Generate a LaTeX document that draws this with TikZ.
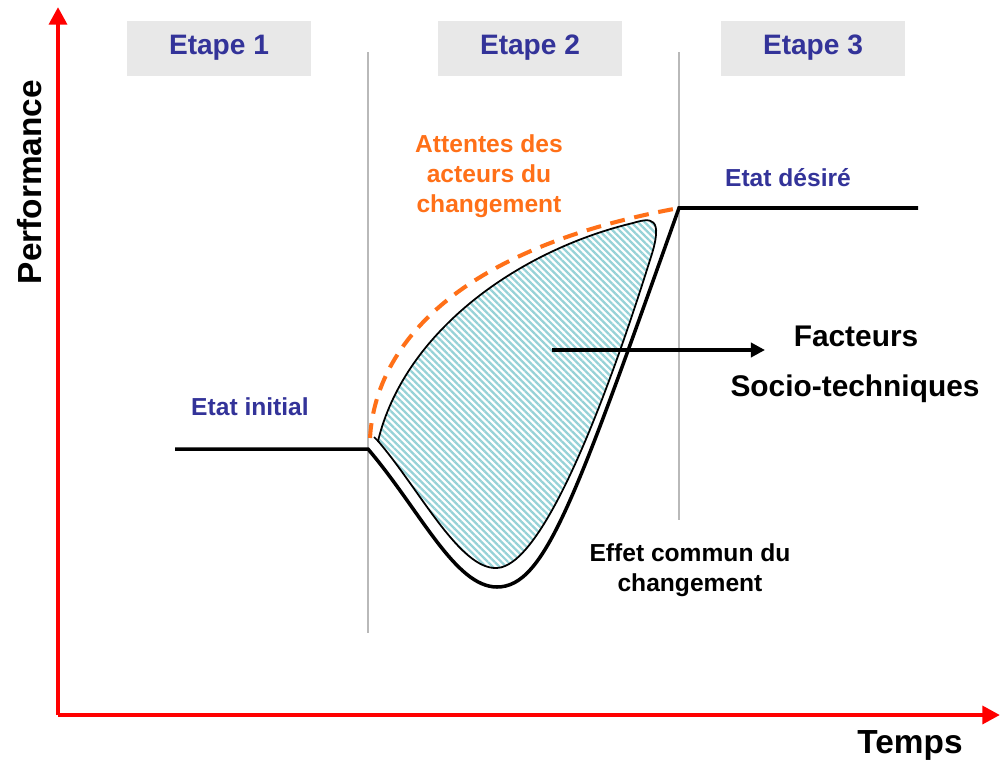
\documentclass[tikz,border=0pt]{standalone}
\usepackage{fontspec}
\setmainfont{Liberation Sans}
\usetikzlibrary{arrows.meta}
\usetikzlibrary{patterns.meta}
\definecolor{etapeblue}{RGB}{51,51,153}
\definecolor{etapegray}{RGB}{232,232,232}
\definecolor{attente}{RGB}{255,112,24}
\definecolor{hatch}{RGB}{150,210,215}
\tikzstyle{axis} = [line width=2.8pt,red,-{Triangle[length=10pt,width=10pt]}]
\tikzstyle{arrow} = [line width=2.2pt,-{Triangle[length=8pt,width=8pt]}]
\tikzset{etape/.style={fill=etapegray, text=etapeblue, inner sep=0pt,
    minimum width=3.68cm, minimum height=1.1cm,
    font=\bfseries\fontsize{16}{19}\selectfont}}
\tikzset{etat/.style={text=etapeblue, font=\bfseries\fontsize{14}{17}\selectfont}}
\tikzset{label it/.style={font=\bfseries\fontsize{14}{17}\selectfont, align=center}}
\tikzset{big it/.style={font=\bfseries\fontsize{19}{22}\selectfont}}

\begin{document}
\begin{tikzpicture}[x=0.02cm,y=-0.02cm]
\useasboundingbox (0,0) rectangle (1002,765);

% axes
\coordinate (O) at (58,715);
\coordinate (ytop) at (58,7);
\coordinate (xend) at (1000,715);
\draw[axis] (O) -- (ytop);
\draw[axis] (O) -- (xend);
\node[big it, rotate=90] (perf) at (30,182) {Performance};
\node[big it] (temps) at (910,745) {Temps};

% etapes
\node[etape] (e1) at (219,48) {Etape 1};
\node[etape] (e2) at (530,48) {Etape 2};
\node[etape] (e3) at (813,48) {Etape 3};
\draw[gray!55, line width=1.1pt] (368,52) -- (368,633);
\draw[gray!55, line width=1.1pt] (679,52) -- (679,520);

% zone hachuree
\draw[line width=1pt, pattern={Lines[angle=-45,distance=2.7pt,line width=1.3pt]}, pattern color=hatch]
    (378,441) .. controls (420,490) and (460,570) .. (497,568)
    .. controls (540,566) and (600,420) .. (650,260)
    .. controls (665,215) and (650,218) .. (633,223)
    .. controls (520,250) and (405,330) .. (378,441) -- cycle;
\draw[line width=1pt] (374,437) -- (379,442);

% courbe effet commun
\draw[line width=2pt] (175,449) -- (368,449)
    .. controls (420,510) and (455,587) .. (497,587)
    .. controls (545,587) and (575,500) .. (679,208) -- (918,208);

% attentes
\draw[attente, line width=2.3pt, dash pattern=on 8.5pt off 5.5pt]
    (370,438) .. controls (375,350) and (450,250) .. (679,208);

\node[etat] (init) at (250,407) {Etat initial};
\node[etat] (desire) at (788,178) {Etat désiré};
\node[label it, text=attente] (att) at (489,176) {Attentes des\\acteurs du\\changement};
\node[label it] (effet) at (690,570) {Effet commun du\\changement};

% facteurs
\node[font=\bfseries\fontsize{17}{20}\selectfont] (fact) at (856,336) {Facteurs};
\node[font=\bfseries\fontsize{17}{20}\selectfont] (socio) at (855,389) {Socio-techniques};
\coordinate (fs) at (552,350);
\coordinate (ft) at (765,350);
\draw[arrow] (fs) -- (ft);
\end{tikzpicture}
\end{document}
